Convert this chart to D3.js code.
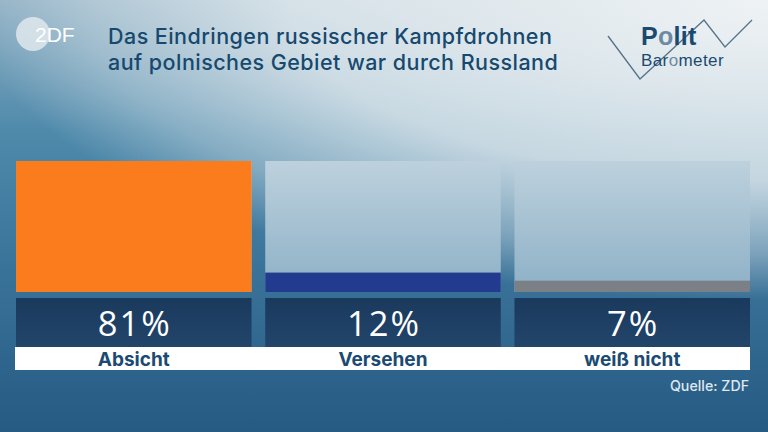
<!DOCTYPE html>
<html><head><meta charset="utf-8">
<script src="https://cdn.jsdelivr.net/npm/d3@7"></script>
<style>html,body{margin:0;padding:0;overflow:hidden;background:#2c6189}svg{display:block}</style>
</head><body><svg id="c" width="768" height="432"></svg>
<script>
const categories = ["Absicht", "Versehen", "weiß nicht"];
const values = [81, 12, 7];
const valueLabels = ["81%", "12%", "7%"];
const colors = ["#fb7c1c", "#223b8f", "#7b7f86"];
const titleLines = ["Das Eindringen russischer Kampfdrohnen", "auf polnisches Gebiet war durch Russland"];
const source = "Quelle: ZDF";

const svg = d3.select("#c");
const W = 768, H = 432;
const defs = svg.append("defs");

// Background: vertical base
const bg = defs.append("linearGradient").attr("id","bg").attr("gradientUnits","userSpaceOnUse")
  .attr("x1",0).attr("y1",0).attr("x2",0).attr("y2",H);
[[0,"#8fb0c4"],[0.3,"#4f8aab"],[0.62,"#3a7399"],[1,"#265b83"]].forEach(s=>
  bg.append("stop").attr("offset",s[0]).attr("stop-color",s[1]));
svg.append("rect").attr("width",W).attr("height",H).attr("fill","url(#bg)");
// light elliptical glow from top-right
const glow = defs.append("radialGradient").attr("id","glow").attr("gradientUnits","userSpaceOnUse")
  .attr("cx",0).attr("cy",0).attr("r",1)
  .attr("gradientTransform","translate(768,0) scale(800,300)");
[[0,1],[0.6,0.75],[0.85,0.35],[1,0]].forEach(s=>
  glow.append("stop").attr("offset",s[0]).attr("stop-color","#eef2f4").attr("stop-opacity",s[1]));
svg.append("rect").attr("width",W).attr("height",H).attr("fill","url(#glow)");

// panel gradient
const pg = defs.append("linearGradient").attr("id","pg").attr("x1","0").attr("y1","0").attr("x2","0").attr("y2","1");
pg.append("stop").attr("offset","0").attr("stop-color","#bdd1dd");
pg.append("stop").attr("offset","1").attr("stop-color","#8db0c6");
const vg = defs.append("linearGradient").attr("id","vg").attr("x1","0").attr("y1","0").attr("x2","0").attr("y2","1");
vg.append("stop").attr("offset","0").attr("stop-color","#1a3a5d");
vg.append("stop").attr("offset","1").attr("stop-color","#22456a");

// ZDF logo
svg.append("circle").attr("cx",33).attr("cy",34).attr("r",17).attr("fill","#dfe7ec").attr("opacity",0.85);
svg.append("text").attr("x",35).attr("y",42).attr("font-family","Liberation Sans, Arial, sans-serif")
  .attr("font-size",21).attr("fill","#ffffff").text("2DF");

// Title
svg.append("g").selectAll("text").data(titleLines).join("text")
  .attr("x",108).attr("y",(d,i)=>44+i*26)
  .attr("font-family","Inter, 'Noto Sans', sans-serif").attr("font-size",21.5).attr("font-weight",500)
  .attr("letter-spacing",0.45).attr("fill","#17496f").text(d=>d);

// Politbarometer logo
svg.append("path").attr("d","M608,36 L640,79 L704,20 L725,47 L752,20")
  .attr("fill","none").attr("stroke","#56718a").attr("stroke-width",1.3);
svg.append("text").attr("x",641).attr("y",45).attr("font-family","Liberation Sans, Arial, sans-serif")
  .attr("font-size",25).attr("font-weight",700).attr("letter-spacing",0.3).attr("fill","#1a4a70")
  .html('P<tspan fill="#6c8aa4">o</tspan>lit');
svg.append("text").attr("x",641).attr("y",66).attr("font-family","Liberation Sans, Arial, sans-serif")
  .attr("font-size",17).attr("letter-spacing",0.4).attr("fill","#1a4a70")
  .html('Bar<tspan fill="#6c8aa4">o</tspan>meter');

// Scales
const x = d3.scaleBand().domain(categories).range([16, 750]).paddingInner(0.055).paddingOuter(0);
const plotTop = 161, plotBottom = 292;
const y = d3.scaleLinear().domain([0, d3.max(values)]).range([plotBottom, plotTop]);

const g = svg.append("g");
// white label strip
g.append("rect").attr("x",15).attr("y",347).attr("width",735).attr("height",23).attr("fill","#ffffff");

const cell = g.selectAll("g.cell").data(categories).join("g").attr("class","cell");
cell.append("rect").attr("x",d=>x(d)).attr("y",plotTop).attr("width",x.bandwidth()).attr("height",plotBottom-plotTop).attr("fill","url(#pg)");
cell.append("rect").attr("x",d=>x(d)).attr("y",(d,i)=>y(values[i])).attr("width",x.bandwidth())
  .attr("height",(d,i)=>plotBottom-y(values[i])).attr("fill",(d,i)=>colors[i]);
cell.append("rect").attr("x",d=>x(d)).attr("y",298).attr("width",x.bandwidth()).attr("height",49).attr("fill","url(#vg)");
cell.append("text").attr("x",d=>x(d)+x.bandwidth()/2+1).attr("y",336).attr("text-anchor","middle")
  .attr("font-family","'Open Sans', 'Noto Sans', sans-serif").attr("font-size",34.5).attr("letter-spacing",2)
  .attr("fill","#ffffff").text((d,i)=>valueLabels[i]);
cell.append("text").attr("x",d=>x(d)+x.bandwidth()/2).attr("y",366).attr("text-anchor","middle")
  .attr("font-family","Inter, 'Noto Sans', sans-serif").attr("font-size",19).attr("font-weight",700)
  .attr("fill","#1b4a72").text(d=>d);

svg.append("text").attr("x",749).attr("y",391).attr("text-anchor","end")
  .attr("font-family","Inter, 'Noto Sans', sans-serif").attr("font-size",14.2).attr("font-weight",500)
  .attr("fill","#dfe8ef").text(source);
</script></body></html>
